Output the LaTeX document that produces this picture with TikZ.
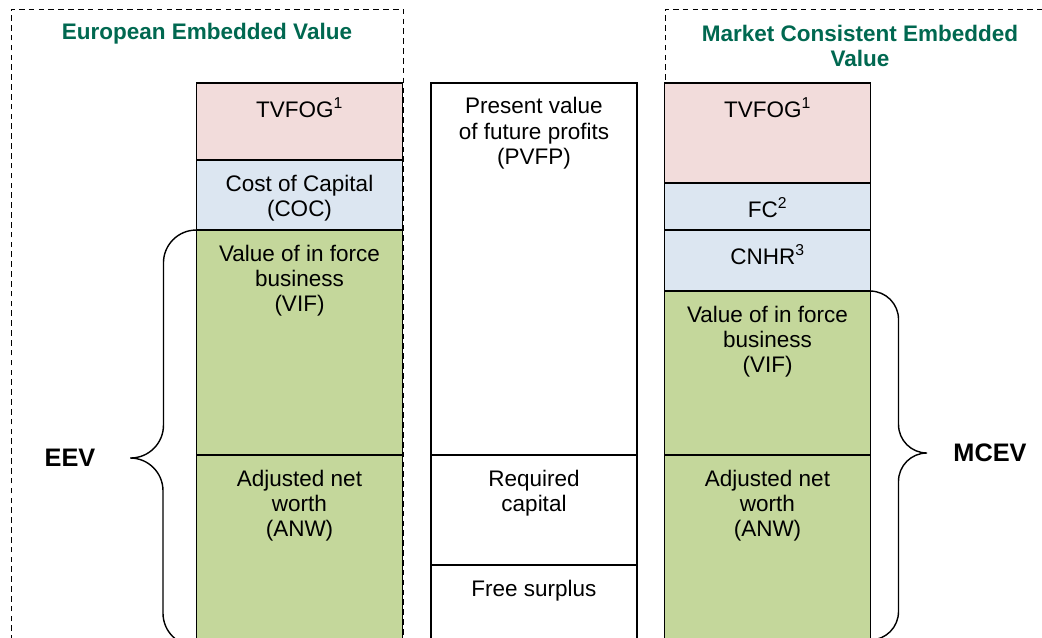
\documentclass[tikz,border=0pt]{standalone}
\usepackage{fontspec}
\setmainfont{Liberation Sans}
\usepackage{tikz}
\usetikzlibrary{positioning}

\definecolor{tvfogpink}{RGB}{242,220,219}
\definecolor{capblue}{RGB}{220,230,241}
\definecolor{vifgreen}{RGB}{196,215,155}
\definecolor{titlegreen}{RGB}{0,104,80}

\tikzset{
  cell/.style={draw,line width=1.2pt,minimum width=5.15cm,inner sep=0pt,outer sep=0pt},
  celltext/.style={anchor=north,align=center,inner sep=0pt,yshift=-0.36cm,
    font=\fontsize{16}{17.8}\selectfont},
  evtitle/.style={align=center,text=titlegreen,font=\bfseries\fontsize{16}{17.8}\selectfont},
  evname/.style={font=\bfseries\fontsize{18}{20}\selectfont},
  frame/.style={line width=0.6pt,dash pattern=on 4pt off 3pt},
  brace line/.style={line width=1pt}
}

\begin{document}
\begin{tikzpicture}[x=0.025cm,y=-0.025cm]
  \useasboundingbox (0,0) rectangle (1042,638);

  % dashed frames
  \draw[frame] (11,700) rectangle (403,9);
  \draw[frame] (665,700) rectangle (1070,9);

  \node[evtitle] (eevtitle) at (207,33.5) {European Embedded Value};
  \node[evtitle] (mcevtitle) at (860,46) {Market Consistent Embedded\\Value};

  % EEV column
  \node[cell,fill=tvfogpink,minimum height=1.925cm,anchor=north,
    label={[celltext]north:{TVFOG\textsuperscript{1}}}] (tvfogL) at (299.5,83) {};
  \node[cell,fill=capblue,minimum height=1.75cm,below=0pt of tvfogL,
    label={[celltext]north:{Cost of Capital\\(COC)}}] (cocL) {};
  \node[cell,fill=vifgreen,minimum height=5.625cm,below=0pt of cocL,
    label={[celltext]north:{Value of in force\\business\\(VIF)}}] (vifL) {};
  \node[cell,fill=vifgreen,minimum height=5cm,below=0pt of vifL,
    label={[celltext]north:{Adjusted net\\worth\\(ANW)}}] (anwL) {};

  % middle column
  \node[cell,minimum height=9.3cm,anchor=north,
    label={[celltext]north:{Present value\\of future profits\\(PVFP)}}] (pvfp) at (534,83) {};
  \node[cell,minimum height=2.75cm,below=0pt of pvfp,
    label={[celltext]north:{Required\\capital}}] (reqcap) {};
  \node[cell,minimum height=3cm,below=0pt of reqcap,
    label={[celltext]north:{Free surplus}}] (freesur) {};

  % MCEV column
  \node[cell,fill=tvfogpink,minimum height=2.5cm,anchor=north,
    label={[celltext]north:{TVFOG\textsuperscript{1}}}] (tvfogR) at (767.5,83) {};
  \node[cell,fill=capblue,minimum height=1.175cm,below=0pt of tvfogR,
    label={[celltext]north:{FC\textsuperscript{2}}}] (fc) {};
  \node[cell,fill=capblue,minimum height=1.525cm,below=0pt of fc,
    label={[celltext]north:{CNHR\textsuperscript{3}}}] (cnhr) {};
  \node[cell,fill=vifgreen,minimum height=4.1cm,below=0pt of cnhr,
    label={[celltext]north:{Value of in force\\business\\(VIF)}}] (vifR) {};
  \node[cell,fill=vifgreen,minimum height=5cm,below=0pt of vifR,
    label={[celltext]north:{Adjusted net\\worth\\(ANW)}}] (anwR) {};

  % braces
  \coordinate (eevtip) at (130,458);
  \coordinate (eevbot) at (196.5,646);
  \coordinate (mcevtip) at (927,453);
  \coordinate (mcevbot) at (870.5,640);
  \draw[brace line,rounded corners=0.82cm]
    (vifL.north west) -- ++(-33,0) |- (eevtip)
    (eevtip) -- ++(33,0) |- (eevbot);
  \draw[brace line,rounded corners=0.71cm]
    (vifR.north east) -- ++(28,0) |- (mcevtip)
    (mcevtip) -- ++(-28.5,0) |- (mcevbot);

  \node[evname] (eev) at (70,458) {EEV};
  \node[evname] (mcev) at (990,453) {MCEV};
\end{tikzpicture}
\end{document}
